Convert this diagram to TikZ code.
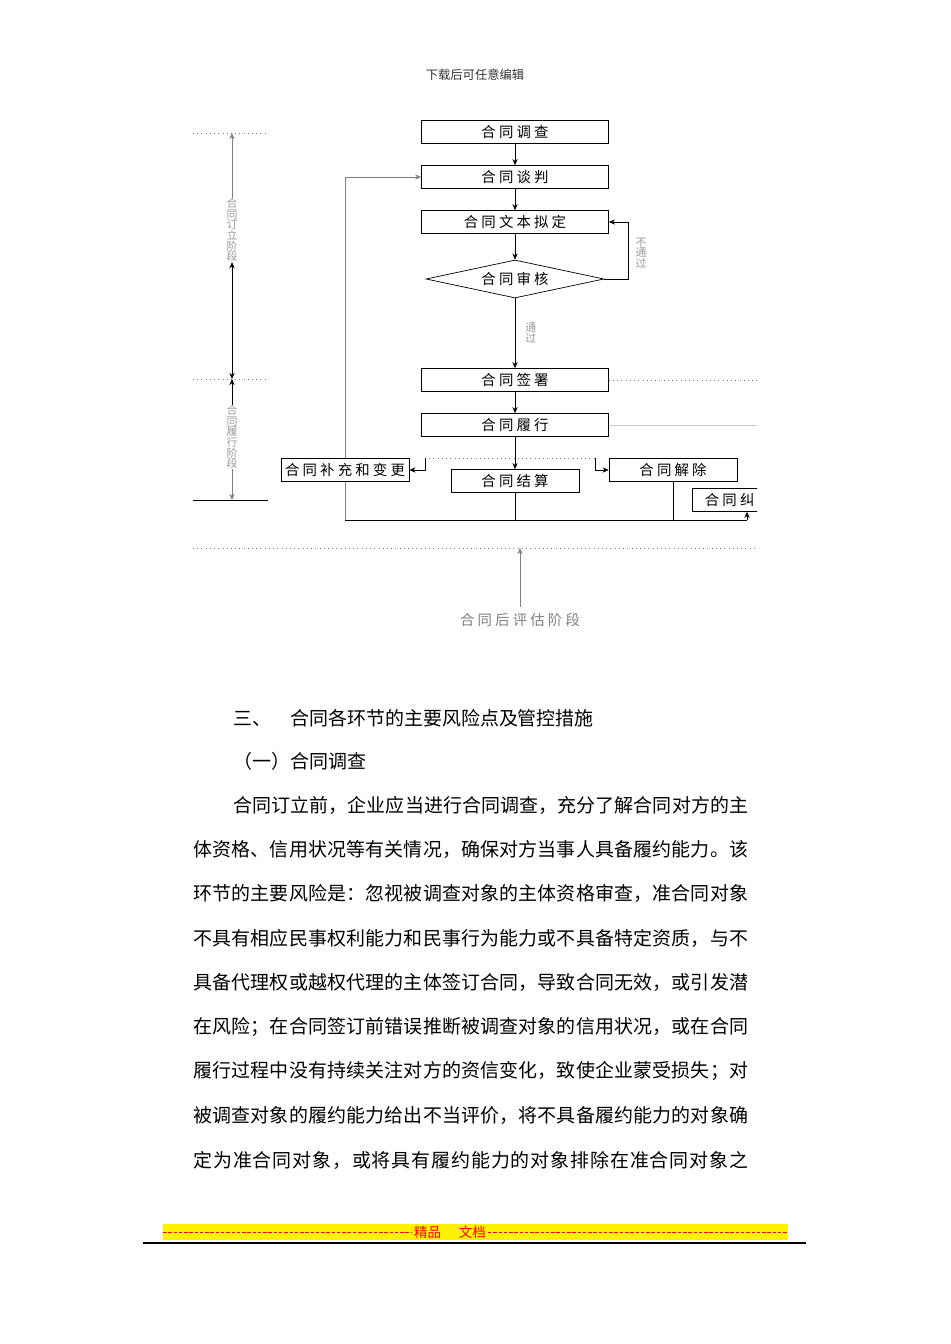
\documentclass[tikz,border=0pt]{standalone}
\usepackage{fontspec}
\setmainfont{Noto Sans CJK SC}
\newfontfamily\boxfont[LetterSpace=22]{Noto Sans CJK SC}
\usetikzlibrary{shapes.geometric,arrows.meta,positioning}

\makeatletter
\def\jgo{\@tfor\jch:=}
\newcommand\jline[2]{\hbox to #1{\expandafter\jgo#2\do{\jch\hskip 0pt plus 1fil}\unskip}}
\makeatother

\tikzset{
  stage/.style={draw, thin, fill=white, inner sep=0pt, minimum width=3.74cm,
    minimum height=0.46cm, font=\boxfont\fontsize{8.2}{9}\selectfont},
  side/.style={stage, minimum width=2.56cm},
  phase/.style={align=center, inner sep=0pt, text=gray!80, font=\fontsize{6.2}{6.1}\selectfont},
  sep/.style={gray, dotted, thin},
  flow/.style={->, thin},
  bodyline/.style={anchor=west, inner sep=0pt, font=\fontsize{10.8}{13}\selectfont}
}

\begin{document}
\begin{tikzpicture}[x=0.02cm, y=-0.02cm, >={Stealth[length=3.5pt,width=3pt]}]
    \useasboundingbox (0,0) rectangle (950,1344);

    % Header
    \node[font=\fontsize{7}{8}\selectfont, text=black!80] (header) at (475,75) {下载后可任意编辑};

    % Define the steps of the flow
    \node[stage] (survey) at (515,132) {合同调查};
    \node[stage] (negot) at (515,177) {合同谈判};
    \node[stage] (draft) at (515,222) {合同文本拟定};
    \node[stage, diamond, shape aspect=4.7, minimum width=3.56cm, minimum height=0.76cm] (review) at (515,279) {合同审核};
    \node[stage] (sign) at (515,380) {合同签署};
    \node[stage] (perform) at (515,425) {合同履行};
    \node[side] (amend) at (345,470) {合同补充和变更};
    \node[side] (settle) at (515,481) {合同结算};
    \node[side] (cancel) at (673,470) {合同解除};
    \begin{scope}
        \clip (0,0) rectangle (757,1344);
        \node[side] (dispute) at (756,500) {合同纠纷处理};
    \end{scope}

    % Right edge of the drawing
    \coordinate (rim) at (757,0);

    % Draw the main flow
    \draw[flow] (survey) -- (negot);
    \draw[flow] (negot) -- (draft);
    \draw[flow] (draft) -- (review);
    \draw[flow] (review) -- node[phase, right=0.2cm] {通\\过} (sign);
    \coordinate (back) at (628,279);
    \draw[flow] (review.east) -- (back) |- (draft.east);
    \node[phase] (fail) at (641,253) {不\\通\\过};
    \draw[flow] (sign) -- (perform);
    \draw[flow] (perform) -- (settle);

    % Branches after performing
    \coordinate (brL) at (425,458);
    \coordinate (brR) at (595,458);
    \draw[sep] (brL) -- (brR);
    \draw[flow] (brL) |- (amend.east);
    \draw[flow] (brR) |- (cancel.west);

    % Loop back to negotiation
    \coordinate (loopL) at (345,520);
    \coordinate (loopR) at (747,520);
    \draw (loopL) -- (loopR);
    \draw[flow] (loopR) -- (loopR |- dispute.south);
    \draw (settle) -- (settle |- loopL);
    \draw (cancel) -- (cancel |- loopL);
    \draw[gray] (loopL) -- (amend.south);
    \draw[flow, gray] (amend.north) |- (negot.west);

    % Lines running off to the right
    \draw[sep] (sign.east) -- (sign.east -| rim);
    \draw[gray!40] (perform.east) -- (perform.east -| rim);

    % Evaluation stage
    \coordinate (evalL) at (193,548);
    \draw[sep] (evalL) -- (evalL -| rim);
    \node[font=\boxfont\fontsize{8.2}{9}\selectfont, text=gray] (evaluate) at (520,620) {合同后评估阶段};
    \draw[flow, gray] (evaluate.north) -- (evaluate.north |- evalL);

    % Phases on the left
    \coordinate (p1) at (193,133);
    \coordinate (p2) at (193,379);
    \coordinate (p3) at (193,500);
    \draw[sep] (p1) -- ++(75,0);
    \draw[sep] (p2) -- ++(75,0);
    \draw (p3) -- ++(75,0);
    \node[phase] (ding) at (232,230) {合\\同\\订\\立\\阶\\段};
    \node[phase] (lv) at (232,437) {合\\同\\履\\行\\阶\\段};
    \draw[flow, gray] (ding.north) -- (ding.north |- p1);
    \draw[<->] (ding.south) -- (ding.south |- p2);
    \draw[flow] (lv.north) -- (lv.north |- p2);
    \draw[flow, gray] (lv.south) -- (lv.south |- p3);

    % Body text
    \node[bodyline] (heading) at (233,718) {三、\hspace{1em}合同各环节的主要风险点及管控措施};
    \node[bodyline] (sub) at (233,761) {（一）合同调查};
    \node[bodyline] (line0) at (233,805) {\jline{10.3cm}{合同订立前，企业应当进行合同调查，充分了解合同对方的主}};
    \foreach \k/\txt in {
        1/体资格、信用状况等有关情况，确保对方当事人具备履约能力。该,
        2/环节的主要风险是：忽视被调查对象的主体资格审查，准合同对象,
        3/不具有相应民事权利能力和民事行为能力或不具备特定资质，与不,
        4/具备代理权或越权代理的主体签订合同，导致合同无效，或引发潜,
        5/在风险；在合同签订前错误推断被调查对象的信用状况，或在合同,
        6/履行过程中没有持续关注对方的资信变化，致使企业蒙受损失；对,
        7/被调查对象的履约能力给出不当评价，将不具备履约能力的对象确,
        8/定为准合同对象，或将具有履约能力的对象排除在准合同对象之}
    {
        \node[bodyline] (line\k) at (193,{805+44.4*\k}) {\jline{11.1cm}{\txt}};
    }

    % Footer
    \fill[yellow] (163,1224) rectangle (788,1240);
    \coordinate (bandL) at (163,1232);
    \coordinate (bandR) at (788,1232);
    \node[text=red, font=\fontsize{7.7}{8}\selectfont, inner sep=1pt] (quality) at (450,1232) {精品\hspace{1.3em}文档};
    \draw[red, dash pattern=on 2pt off 1pt] (bandL) -- (quality.west);
    \draw[red, dash pattern=on 2pt off 1pt] (quality.east) -- (bandR);
    \draw[line width=0.9pt] (143,1243) -- (806,1243);
\end{tikzpicture}
\end{document}
